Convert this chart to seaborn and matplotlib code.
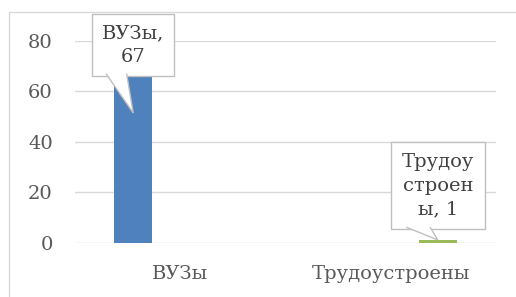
"""
Bar chart: ВУЗы vs Трудоустроены, Excel-style callout labels.
"""
import pandas as pd
import matplotlib.pyplot as plt
from matplotlib.patches import Rectangle, Polygon
import seaborn as sns

categories = ["ВУЗы", "Трудоустроены"]
series_names = ["Ряд 1", "Ряд 2", "Ряд 3"]
series_1 = [67, 0]
series_2 = [0, 0]
series_3 = [0, 1]
label_texts = ["ВУЗы,\n67", "Трудоу\nстроен\nы, 1"]

COLORS = ["#4F81BD", "#C0504D", "#9BBB59"]
TEXT = "#595959"
EDGE = "#bfbfbf"

rows = []
for name, vals in zip(series_names, [series_1, series_2, series_3]):
    for cat, v in zip(categories, vals):
        rows.append({"category": cat, "series": name, "value": v})
df = pd.DataFrame(rows)

sns.set_style("white")
plt.rcParams["font.family"] = ["DejaVu Serif"]

fig = plt.figure(figsize=(5.16, 2.97), dpi=100)
ax = fig.add_axes([75 / 516, 54 / 297, 421 / 516, 202.3 / 297])

# outer chart border (only left and top visible in the reference)
fig.patches.append(Rectangle((9 / 516, -0.2), 1.2, 1.2 - 12 / 297,
                             transform=fig.transFigure, fill=False,
                             ec="#d9d9d9", lw=1))

sns.barplot(data=df, x="category", y="value", hue="series", order=categories,
            hue_order=series_names, palette=COLORS, saturation=1,
            width=0.67, gap=0.19, linewidth=0, legend=False, ax=ax)

ax.set_ylim(0, 80)
ax.set_yticks([0, 20, 40, 60, 80])
ax.set_xlim(-0.5, 1.5)
ax.yaxis.grid(True, color="#d9d9d9", lw=1)
ax.set_axisbelow(True)
for s in ax.spines.values():
    s.set_visible(False)
ax.tick_params(axis="both", length=0, labelsize=14, colors=TEXT)
ax.tick_params(axis="y", pad=16)
ax.tick_params(axis="x", pad=16)
ax.set_xlabel("")
ax.set_ylabel("")

# callout labels: tip y and box centre y in data units
bars = [p for p in ax.patches if p.get_height() > 0]
bars.sort(key=lambda p: p.get_x())
tips = [51.4, 1.2]
boxes_y = [78.3, 22.7]
pads = [0.5, 0.55]
labels = []
for bar, txt, by, pad in zip(bars, label_texts, boxes_y, pads):
    cx = bar.get_x() + bar.get_width() / 2
    t = ax.text(cx, by, txt, ha="center", va="center", fontsize=14,
                color="#404040", linespacing=1.4, zorder=5, clip_on=False,
                bbox=dict(boxstyle=f"square,pad={pad}", fc="white", ec=EDGE, lw=1))
    labels.append((t, cx))

# callout pointers, drawn from the box bottom edge to the tip
fig.canvas.draw()
inv = ax.transData.inverted()
for (t, cx), ty in zip(labels, tips):
    bb = t.get_bbox_patch().get_window_extent()
    x0 = bb.x0 + 0.17 * bb.width
    x1 = bb.x0 + 0.42 * bb.width
    yb = bb.y0 + 1.5
    tip = ax.transData.transform((cx, ty))
    pts = inv.transform([(x0, yb), tuple(tip), (x1, yb)])
    ax.add_patch(Polygon(pts, closed=True, fc="white", ec="none", zorder=6, clip_on=False))
    ax.plot(pts[:, 0], pts[:, 1], color=EDGE, lw=1, zorder=7, clip_on=False,
            solid_joinstyle="miter")

fig.savefig("out.png", dpi=100)
